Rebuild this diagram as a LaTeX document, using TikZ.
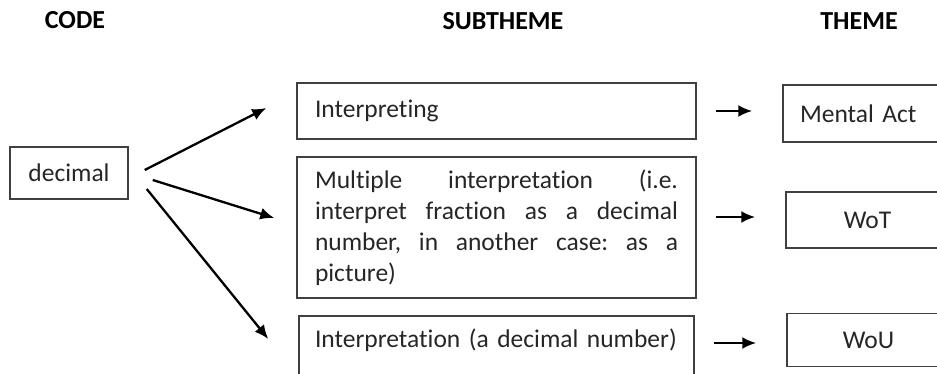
\documentclass[tikz,border=0pt]{standalone}
\usepackage{fontspec}
\setmainfont{Carlito}[Ligatures=NoCommon]
\usetikzlibrary{arrows.meta}
\frenchspacing

\begin{document}
\begin{tikzpicture}[x=1pt,y=1pt,
		box/.style={draw=black!75, line width=1.5pt, text=black!85, inner ysep=0pt},
		subbox/.style={box, text width=363pt, inner xsep=18pt, font=\fontsize{25.5}{31}\selectfont},
		themebox/.style={box, minimum width=163pt, font=\fontsize{25.5}{30}\selectfont},
		head/.style={font=\fontsize{26}{30}\selectfont\bfseries, text=black},
		arr/.style={line width=2.3pt, -{Latex[length=14pt,width=12pt]}}]
				\useasboundingbox (0,0) rectangle (937,-374);
				\clip (0,0) rectangle (937,-374);
				
				\node[head] (hcode) at (75,-20) {CODE};
				\node[head] (hsub) at (503,-21) {SUBTHEME};
				\node[head] (htheme) at (859,-21) {THEME};
				
				\node[box, minimum width=118pt, minimum height=52pt, font=\fontsize{25.5}{30}\selectfont] (dec) at (69,-173) {decimal};
				
				\node[subbox, minimum height=56pt, align=left] (sub1) at (496.5,-111) {Interpreting};
				\node[subbox, minimum height=141pt, align=justify] (sub2) at (496.5,-227.5) {Multiple interpretation (i.e.\linebreak interpret fraction as a decimal\linebreak number, in another case: as a\linebreak picture)};
				\node[subbox, anchor=north, align=left, text height=32pt, text depth=60pt, inner xsep=16pt] (sub3) at (496.5,-315) {Interpretation (a decimal number)};
				
				\node[themebox, minimum height=57pt, text width=129pt, inner xsep=17pt, align=left] (th1) at (864.5,-113.5) {Mental Act};
				\node[themebox, minimum height=56pt] (th2) at (867.5,-220) {WoT};
				\node[themebox, minimum height=53pt] (th3) at (868.5,-340) {WoU};
				
				\draw[arr] ([xshift=16pt,yshift=3pt]dec.east) -- ([xshift=-30pt,yshift=3pt]sub1.west);
				\draw[arr] ([xshift=24pt,yshift=-7pt]dec.east) -- ([xshift=-22pt,yshift=9.5pt]sub2.west);
				\draw[arr] ([xshift=18pt,yshift=-16pt]dec.east) -- ([xshift=-30pt]sub3.west |- 0,-339);
				
				\draw[arr, shorten <=19pt, shorten >=30pt] (sub1.east) -- (sub1.east -| th1.west);
				\draw[arr, shorten <=19pt, shorten >=30pt] ([yshift=10.5pt]sub2.east) -- ([yshift=10.5pt]sub2.east -| th2.west);
				\draw[arr, shorten <=19pt, shorten >=30pt] (sub3.east |- 0,-343) -- (th3.west |- 0,-343);
\end{tikzpicture}
\end{document}
